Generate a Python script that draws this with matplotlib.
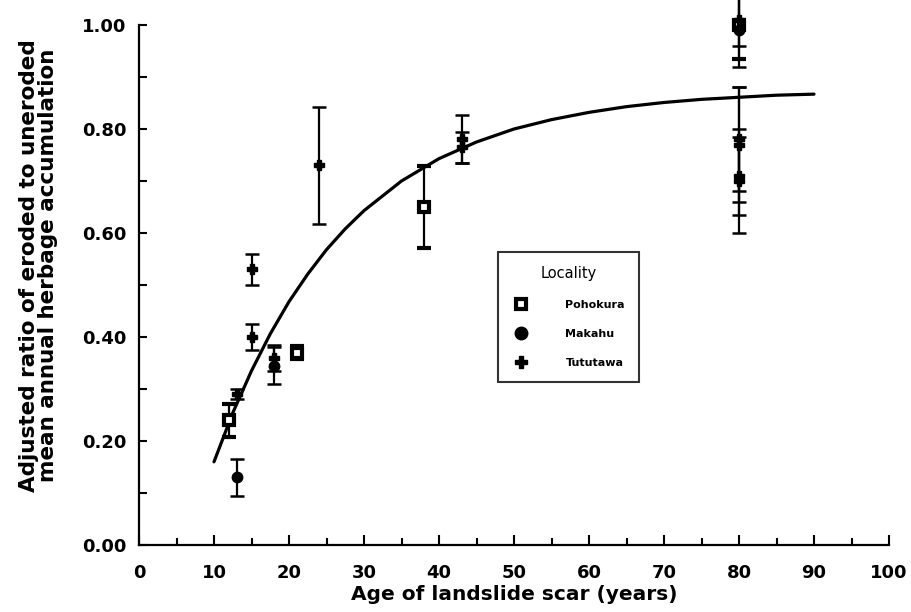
import matplotlib
matplotlib.use("Agg")
import matplotlib.pyplot as plt
from matplotlib.ticker import MultipleLocator, FormatStrFormatter
from matplotlib.lines import Line2D

plt.rcParams['font.family'] = ['DejaVu Sans']

# --- data ---
poho_x = [12, 21, 38, 80]
poho_y = [0.24, 0.37, 0.65, 1.00]
poho_err = [0.032, 0.012, 0.078, 0.065]

maka_x = [13, 18, 80]
maka_y = [0.13, 0.345, 0.99]
maka_err = [0.036, 0.035, 0.07]

tutu_x = [13, 15, 15, 18, 24, 43, 43, 80, 80, 80, 80, 80]
tutu_y = [0.29, 0.53, 0.40, 0.36, 0.73, 0.78, 0.765, 1.01, 0.78, 0.77, 0.71, 0.70]
tutu_err = [0.01, 0.03, 0.025, 0.025, 0.112, 0.046, 0.03, 0.05, 0.10, 0.11, 0.075, 0.10]

curve_x = [10, 12.5, 15, 17.5, 20, 22.5, 25, 27.5, 30, 35, 40, 45, 50, 55, 60, 65, 70, 75, 80, 85, 90]
curve_y = [0.160, 0.254, 0.335, 0.406, 0.468, 0.521, 0.568, 0.608, 0.643, 0.700, 0.743,
           0.775, 0.800, 0.818, 0.832, 0.843, 0.851, 0.857, 0.861, 0.865, 0.867]

xlabel = "Age of landslide scar (years)"
ylabel = "Adjusted ratio of eroded to uneroded\nmean annual herbage accumulation"
legend_title = "Locality"
names = ["Pohokura", "Makahu", "Tututawa"]

fig = plt.figure(figsize=(9.11, 6.12), dpi=100)
ax = fig.add_axes([139/911, 1 - 545/612, 750/911, 520/612])

ax.plot(curve_x, curve_y, color='black', lw=2.3, solid_capstyle='round', zorder=2)

ekw = dict(ecolor='black', elinewidth=1.6, capsize=5, capthick=1.8, ls='none', clip_on=False, zorder=3)
ax.errorbar(poho_x, poho_y, yerr=poho_err, marker='s', ms=6.5, mfc='white', mec='black', mew=3, **ekw)
ax.errorbar(maka_x, maka_y, yerr=maka_err, marker='o', ms=7.5, mfc='black', mec='black', **ekw)
ax.errorbar(tutu_x, tutu_y, yerr=tutu_err, marker='P', ms=6.5, mfc='black', mec='black', **ekw)

ax.set_xlim(0, 100)
ax.set_ylim(0, 1.0)
ax.spines['top'].set_visible(False)
ax.spines['right'].set_visible(False)
for s in ('left', 'bottom'):
    ax.spines[s].set_linewidth(1.6)
ax.xaxis.set_major_locator(MultipleLocator(10))
ax.xaxis.set_minor_locator(MultipleLocator(5))
ax.yaxis.set_major_locator(MultipleLocator(0.2))
ax.yaxis.set_minor_locator(MultipleLocator(0.1))
ax.yaxis.set_major_formatter(FormatStrFormatter('%.2f'))
ax.tick_params(which='major', direction='in', length=7, width=1.5, labelsize=13)
ax.tick_params(which='minor', direction='in', length=5, width=1.5)
ax.tick_params(axis='y', which='both', length=6)
ax.tick_params(axis='x', which='major', pad=14)
ax.tick_params(axis='y', which='major', pad=9)
for lab in ax.get_xticklabels() + ax.get_yticklabels():
    lab.set_fontweight('bold')

ax.set_xlabel(xlabel, fontsize=14.5, fontweight='bold', labelpad=2)
ax.set_ylabel(ylabel, fontsize=15.5, fontweight='bold', linespacing=0.92)
ax.yaxis.set_label_coords(-0.108, 0.537)

handles = [
    Line2D([], [], ls='none', marker='s', ms=6.5, mfc='white', mec='black', mew=3),
    Line2D([], [], ls='none', marker='o', ms=9, mfc='black', mec='black'),
    Line2D([], [], ls='none', marker='P', ms=9, mfc='black', mec='black'),
]
leg = ax.legend(handles, names, title=legend_title, loc='upper left',
                bbox_to_anchor=(0.479, 0.563), frameon=True, fancybox=False,
                edgecolor='black', prop={'size': 8, 'weight': 'bold'},
                title_fontproperties={'size': 10.5},
                handlelength=1.6, handletextpad=3.2, labelspacing=1.7,
                borderpad=1.25, borderaxespad=0)
leg.get_frame().set_linewidth(1.5)

fig.savefig("out.png", dpi=100)
